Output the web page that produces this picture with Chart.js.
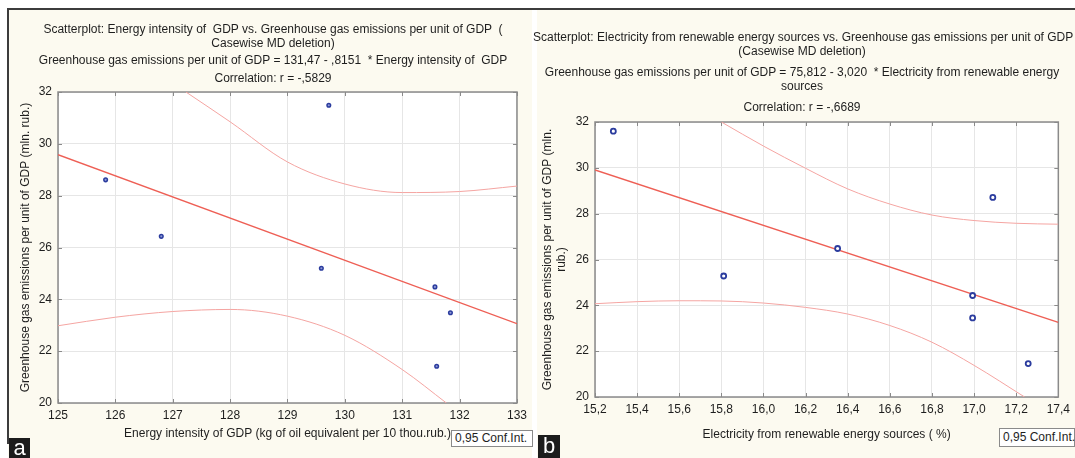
<!DOCTYPE html>
<html>
<head>
<meta charset="utf-8">
<script src="https://cdn.jsdelivr.net/npm/chart.js@4.4.1/dist/chart.umd.min.js"></script>
<style>
  body { margin: 0; width: 1075px; height: 458px; background: #fff; position: relative; overflow: hidden;
         font-family: "Liberation Sans", Arial, sans-serif; color: #1e1e1e; }
  .panel { position: absolute; top: 9px; height: 449px; background: #fcfaf0; }
  .panel canvas { position: absolute; left: 0; top: 0; }
  .line { position: absolute; left: 0; width: 100%; text-align: center; font-size: 12px; line-height: 14px; white-space: pre; }
  .ci { position: absolute; background: #fff; border: 1px solid #8a8a8a; box-sizing: border-box;
        font-size: 12px; line-height: 15px; padding-left: 3px; white-space: nowrap; }
  .tag { position: absolute; background: #1c1c1c; color: #fff; font-size: 22px; text-align: center; }
  #topRule { position: absolute; left: 7px; top: 8px; width: 1068px; height: 2px; background: #3c3c3c; }
  #leftRule { position: absolute; left: 7px; top: 8px; width: 2px; height: 436px; background: #3c3c3c; }
</style>
</head>
<body>

<div class="panel" id="panelA" style="left:8px; width:524px;">
  <canvas id="chartA" width="524" height="449"></canvas>
  <div class="line" style="top:13px; left:3px;">Scatterplot: Energy intensity of  GDP vs. Greenhouse gas emissions per unit of GDP  (</div>
  <div class="line" style="top:27px; left:3px;">Casewise MD deletion)</div>
  <div class="line" style="top:44px; left:3px;">Greenhouse gas emissions per unit of GDP = 131,47 - ,8151  * Energy intensity of  GDP</div>
  <div class="line" style="top:62px; left:3px;">Correlation: r = -,5829</div>
</div>

<div class="panel" id="panelB" style="left:537px; width:538px;">
  <canvas id="chartB" width="538" height="449"></canvas>
  <div class="line" style="top:21px; left:-4px;">Scatterplot: Electricity from renewable energy sources vs. Greenhouse gas emissions per unit of GDP</div>
  <div class="line" style="top:35px; left:-4px;">(Casewise MD deletion)</div>
  <div class="line" style="top:56px; left:-4px;">Greenhouse gas emissions per unit of GDP = 75,812 - 3,020  * Electricity from renewable energy</div>
  <div class="line" style="top:70px; left:-4px;">sources</div>
  <div class="line" style="top:91px; left:-4px;">Correlation: r = -,6689</div>
</div>

<div id="topRule"></div>
<div id="leftRule"></div>

<div class="ci" style="left:451px; top:430px; width:82px; height:17px;">0,95 Conf.Int.</div>
<div class="ci" style="left:999px; top:428px; width:76px; height:19px; line-height:17px;">0,95 Conf.Int.</div>

<div class="tag" style="left:9px; top:438px; width:21px; height:20px; line-height:20px;">a</div>
<div class="tag" style="left:538px; top:435px; width:22px; height:23px; line-height:22px;">b</div>

<script>
// ---- panel a: energy intensity vs emissions ----
const energyIntensity = [125.83, 126.80, 129.72, 129.59, 131.57, 131.84, 131.60];
const emissionsA = [28.61, 26.43, 31.49, 25.20, 24.48, 23.48, 21.42];
const fitAX = [125, 133];
const fitAY = [29.58, 23.06];
const upperAX = [127.23, 128, 129, 130, 131, 132, 133];
const upperAY = [32, 30.85, 29.30, 28.45, 28.12, 28.16, 28.37];
const lowerAX = [125, 126, 127, 128, 129, 130, 131, 131.77];
const lowerAY = [22.98, 23.31, 23.53, 23.61, 23.35, 22.61, 21.29, 20.0];
const xTicksA = [125, 126, 127, 128, 129, 130, 131, 132, 133];

// ---- panel b: renewable electricity vs emissions ----
const renewableShare = [15.287, 15.811, 16.352, 16.993, 16.993, 17.089, 17.257];
const emissionsB = [31.60, 25.28, 26.48, 24.43, 23.45, 28.71, 21.46];
const fitBX = [15.2, 17.4];
const fitBY = [29.91, 23.26];
const upperBX = [15.80, 16.0, 16.2, 16.4, 16.6, 16.8, 17.0, 17.2, 17.4];
const upperBY = [32, 30.95, 29.98, 29.08, 28.42, 27.94, 27.70, 27.58, 27.54];
const lowerBX = [15.2, 15.4, 15.6, 15.8, 16.0, 16.2, 16.4, 16.6, 16.8, 17.0, 17.24];
const lowerBY = [24.07, 24.16, 24.20, 24.19, 24.10, 23.91, 23.62, 23.12, 22.39, 21.38, 20.0];
const xTicksB = [15.2, 15.4, 15.6, 15.8, 16.0, 16.2, 16.4, 16.6, 16.8, 17.0, 17.2, 17.4];

// shared y axis
const yTicks = [20, 22, 24, 26, 28, 30, 32];

const INK = "#1e1e1e";
const GRID = "#e6e6e6";
const FRAME = "#8a8a8a";
const BLUE = "#2b3c9e";
const RED = "#ee5f55";
const PINK = "#f5a5a2";

Chart.defaults.font.family = '"Liberation Sans", Arial, sans-serif';

const pts = (xs, ys) => xs.map((x, i) => ({ x: x, y: ys[i] }));

// white plot background + grey frame with small inward tick marks
const plotFrame = {
    id: "plotFrame",
    beforeDraw(chart) {
        const { ctx, chartArea: a } = chart;
        ctx.save();
        ctx.fillStyle = "#ffffff";
        ctx.fillRect(a.left, a.top, a.right - a.left, a.bottom - a.top);
        ctx.restore();
    },
    beforeDatasetsDraw(chart) {
        const { ctx, chartArea: a, scales } = chart;
        ctx.save();
        ctx.strokeStyle = FRAME;
        ctx.lineWidth = 1.5;
        ctx.strokeRect(a.left, a.top, a.right - a.left, a.bottom - a.top);
        ctx.lineWidth = 1;
        ctx.beginPath();
        scales.x.ticks.forEach((t) => {
            const px = Math.round(scales.x.getPixelForValue(t.value)) + 0.5;
            ctx.moveTo(px, a.top); ctx.lineTo(px, a.top + 4);
            ctx.moveTo(px, a.bottom); ctx.lineTo(px, a.bottom - 4);
        });
        scales.y.ticks.forEach((t) => {
            const py = Math.round(scales.y.getPixelForValue(t.value)) + 0.5;
            ctx.moveTo(a.left, py); ctx.lineTo(a.left + 4, py);
            ctx.moveTo(a.right, py); ctx.lineTo(a.right - 4, py);
        });
        ctx.stroke();
        ctx.restore();
    }
};

function drawPanel(id, p) {
    new Chart(document.getElementById(id), {
        type: "scatter",
        data: {
            datasets: [
                {
                    data: pts(p.px, p.py),
                    showLine: false,
                    pointRadius: p.r,
                    pointBorderWidth: p.bw,
                    borderColor: BLUE,
                    backgroundColor: p.dotFill
                },
                { data: pts(p.fx, p.fy), showLine: true, borderColor: RED, borderWidth: 1.4, pointRadius: 0 },
                { data: pts(p.ux, p.uy), showLine: true, borderColor: PINK, borderWidth: 1, pointRadius: 0, cubicInterpolationMode: "monotone" },
                { data: pts(p.lx, p.ly), showLine: true, borderColor: PINK, borderWidth: 1, pointRadius: 0, cubicInterpolationMode: "monotone" }
            ]
        },
        options: {
            responsive: false,
            animation: false,
            devicePixelRatio: 1,
            layout: { padding: p.pad },
            plugins: { legend: { display: false }, tooltip: { enabled: false } },
            scales: {
                x: {
                    type: "linear",
                    min: p.xTicks[0],
                    max: p.xTicks[p.xTicks.length - 1],
                    afterBuildTicks: (s) => { s.ticks = p.xTicks.map((v) => ({ value: v })); },
                    afterFit: (s) => { s.height = p.xh; },
                    grid: { color: GRID, drawTicks: false },
                    border: { display: false },
                    ticks: { color: INK, font: { size: 12 }, padding: 5, maxRotation: 0, autoSkip: false, callback: p.fmt },
                    title: { display: true, text: p.xTitle, color: INK, font: { size: 12 }, padding: { top: 0, bottom: p.xtp } }
                },
                y: {
                    type: "linear",
                    min: 20,
                    max: 32,
                    afterBuildTicks: (s) => { s.ticks = yTicks.map((v) => ({ value: v })); },
                    afterFit: (s) => { s.width = p.yw; },
                    grid: { color: GRID, drawTicks: false },
                    border: { display: false },
                    ticks: { color: INK, font: { size: 12 }, padding: 6, autoSkip: false },
                    title: { display: true, text: p.yTitle, color: INK, font: { size: 12 }, padding: { top: p.ytp, bottom: 0 } }
                }
            }
        },
        plugins: [plotFrame]
    });
}

drawPanel("chartA", {
    px: energyIntensity, py: emissionsA,
    fx: fitAX, fy: fitAY,
    ux: upperAX, uy: upperAY,
    lx: lowerAX, ly: lowerAY,
    xTicks: xTicksA,
    fmt: (v) => String(v),
    r: 1.8, bw: 1.5, dotFill: "#8f9ad6",
    pad: { top: 83, right: 13, bottom: 0, left: 0 },
    xh: 55, yw: 50, xtp: 17, ytp: 10,
    xTitle: "Energy intensity of GDP (kg of oil equivalent per 10 thou.rub.)",
    yTitle: "Greenhouse gas emissions per unit of GDP (mln. rub.)"
});

drawPanel("chartB", {
    px: renewableShare, py: emissionsB,
    fx: fitBX, fy: fitBY,
    ux: upperBX, uy: upperBY,
    lx: lowerBX, ly: lowerBY,
    xTicks: xTicksB,
    fmt: (v) => v.toFixed(1).replace(".", ","),
    r: 2.5, bw: 1.8, dotFill: "#ffffff",
    pad: { top: 113, right: 15, bottom: 0, left: 0 },
    xh: 61, yw: 58, xtp: 16, ytp: 3,
    xTitle: "Electricity from renewable energy sources ( %)",
    yTitle: ["Greenhouse gas emissions per unit of GDP (mln.", "rub.)"]
});
</script>
</body>
</html>
